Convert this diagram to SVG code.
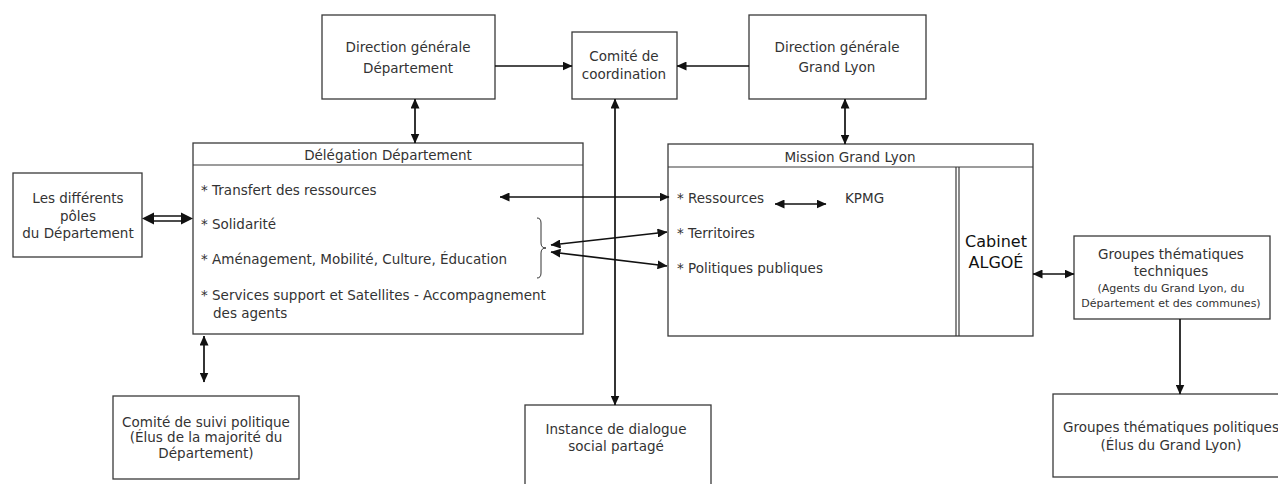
<svg xmlns="http://www.w3.org/2000/svg" width="1278" height="484" viewBox="0 0 1278 484">
  <style>
    .box { fill: #ffffff; stroke: #3a3a3a; stroke-width: 1.3; }
    .sep { fill: none; stroke: #3a3a3a; stroke-width: 1.2; }
    .t { font-family: "DejaVu Sans", Verdana, sans-serif; font-size: 13.5px; fill: #333333; }
    .c { text-anchor: middle; }
    .s { font-size: 11px; }
    .big { font-size: 16px; fill: #111111; }
    .link { fill: none; stroke: #111111; stroke-width: 1.7; }
    .both { marker-start: url(#head); marker-end: url(#head); }
    .end { marker-end: url(#head); }
  </style>
  <defs>
    <marker id="head" markerUnits="userSpaceOnUse" markerWidth="10" markerHeight="9" refX="9.5" refY="4.5" orient="auto-start-reverse">
      <path d="M0,0 L10,4.5 L0,9 z" fill="#111111"/>
    </marker>
  </defs>

  <rect width="1278" height="484" fill="#ffffff"/>

  <!-- top row -->
  <g id="dg-departement">
    <rect class="box" x="322" y="15" width="173" height="84"/>
    <text class="t c" x="408" y="52">Direction générale</text>
    <text class="t c" x="408" y="73">Département</text>
  </g>

  <g id="comite-coordination">
    <rect class="box" x="572" y="32" width="105" height="67"/>
    <text class="t c" x="624" y="61">Comité de</text>
    <text class="t c" x="624" y="79">coordination</text>
  </g>

  <g id="dg-grand-lyon">
    <rect class="box" x="749" y="15" width="177" height="84"/>
    <text class="t c" x="837" y="52">Direction générale</text>
    <text class="t c" x="837" y="72">Grand Lyon</text>
  </g>

  <!-- side box -->
  <g id="poles-departement">
    <rect class="box" x="13" y="173" width="129" height="84"/>
    <text class="t c" x="78" y="203">Les différents</text>
    <text class="t c" x="78" y="221">pôles</text>
    <text class="t c" x="78" y="238">du Département</text>
  </g>

  <!-- delegation -->
  <g id="delegation-departement">
    <rect class="box" x="193" y="143" width="390" height="191"/>
    <line class="sep" x1="193" y1="165" x2="583" y2="165"/>
    <text class="t c" x="388" y="160">Délégation Département</text>
    <text class="t" x="201" y="195">* Transfert des ressources</text>
    <text class="t" x="201" y="229">* Solidarité</text>
    <text class="t" x="201" y="264">* Aménagement, Mobilité, Culture, Éducation</text>
    <text class="t" x="201" y="300">* Services support et Satellites - Accompagnement</text>
    <text class="t" x="213" y="318">des agents</text>
    <path d="M537,218 Q541,218 541,223 L541,243 Q541,248 546,248 Q541,248 541,253 L541,273 Q541,278 537,278" fill="none" stroke="#333333" stroke-width="1"/>
  </g>

  <!-- mission -->
  <g id="mission-grand-lyon">
    <rect class="box" x="668" y="144" width="365" height="192"/>
    <line class="sep" x1="668" y1="167" x2="1033" y2="167"/>
    <line class="sep" x1="956" y1="167" x2="956" y2="336"/>
    <line class="sep" x1="959" y1="167" x2="959" y2="336"/>
    <text class="t c" x="850" y="162">Mission Grand Lyon</text>
    <text class="t" x="677" y="203">* Ressources</text>
    <text class="t" x="845" y="203">KPMG</text>
    <text class="t" x="677" y="238">* Territoires</text>
    <text class="t" x="677" y="273">* Politiques publiques</text>
  </g>

  <g id="cabinet-algoe">
    <text class="t c big" x="996" y="247">Cabinet</text>
    <text class="t c big" x="996" y="268">ALGOÉ</text>
  </g>

  <g id="groupes-techniques">
    <rect class="box" x="1074" y="236" width="196" height="83"/>
    <text class="t c" x="1171" y="259">Groupes thématiques</text>
    <text class="t c" x="1171" y="276">techniques</text>
    <text class="t c s" x="1171" y="292">(Agents du Grand Lyon, du</text>
    <text class="t c s" x="1171" y="307">Département et des communes)</text>
  </g>

  <!-- bottom row -->
  <g id="comite-suivi">
    <rect class="box" x="113" y="396" width="186" height="83"/>
    <text class="t c" x="206" y="427">Comité de suivi politique</text>
    <text class="t c" x="206" y="442">(Élus de la majorité du</text>
    <text class="t c" x="206" y="458">Département)</text>
  </g>

  <g id="instance-dialogue">
    <rect class="box" x="525" y="405" width="186" height="90"/>
    <text class="t c" x="616" y="434">Instance de dialogue</text>
    <text class="t c" x="616" y="451">social partagé</text>
  </g>

  <g id="groupes-politiques">
    <rect class="box" x="1053" y="394" width="236" height="83"/>
    <text class="t c" x="1171" y="432">Groupes thématiques politiques</text>
    <text class="t c" x="1171" y="450">(Élus du Grand Lyon)</text>
  </g>

  <!-- connectors -->
  <g id="connectors">
    <line class="link end" x1="495" y1="66" x2="572" y2="66"/>
    <line class="link end" x1="749" y1="66" x2="677" y2="66"/>
    <line class="link both" x1="415" y1="99" x2="415" y2="143"/>
    <line class="link both" x1="845" y1="99" x2="845" y2="144"/>
    <line class="link both" x1="615" y1="99" x2="615" y2="405"/>
    <line class="link both" x1="500" y1="197" x2="669" y2="197"/>
    <line class="link both" x1="551" y1="245" x2="667" y2="232"/>
    <line class="link both" x1="551" y1="252" x2="667" y2="266"/>
    <line class="link both" x1="775" y1="204" x2="826" y2="204"/>
    <line class="link both" x1="204" y1="336" x2="204" y2="382"/>
    <line class="link both" x1="1033" y1="274" x2="1074" y2="274"/>
    <line class="link end" x1="1180" y1="319" x2="1180" y2="394"/>
    <!-- double-line link between the poles box and the delegation -->
    <line class="link" x1="150" y1="216" x2="186" y2="216"/>
    <line class="link" x1="150" y1="221" x2="186" y2="221"/>
    <path d="M142,218.5 L154,212.5 L154,224.5 z" fill="#111111"/>
    <path d="M193,218.5 L181,212.5 L181,224.5 z" fill="#111111"/>
  </g>
</svg>
